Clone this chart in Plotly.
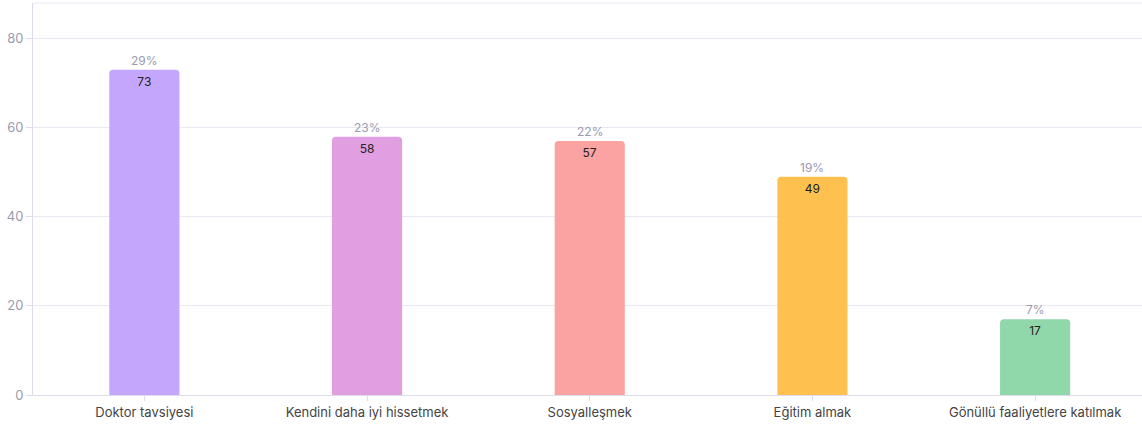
import plotly.graph_objects as go

categories = ["Doktor tavsiyesi", "Kendini daha iyi hissetmek", "Sosyalleşmek",
              "Eğitim almak", "Gönüllü faaliyetlere katılmak"]
values = [73, 58, 57, 49, 17]
percents = ["29%", "23%", "22%", "19%", "7%"]
colors = ["#C4A7FC", "#E19FE2", "#FBA3A2", "#FEC150", "#90D8AA"]
y_ticks = [0, 20, 40, 60, 80]

FONT = "Inter, Roboto, sans-serif"

fig = go.Figure()
fig.add_trace(go.Bar(
    x=categories, y=values,
    marker=dict(color=colors, line=dict(width=0)),
    width=0.315,
    text=[str(v) for v in values],
    textposition="inside",
    insidetextanchor="end",
    textangle=0,
    textfont=dict(family=FONT, size=12, color="#222222"),
    hoverinfo="skip",
))

for c, v, p in zip(categories, values, percents):
    fig.add_annotation(x=c, y=v, text=p, showarrow=False, yanchor="bottom",
                       yshift=0, font=dict(family=FONT, size=12, color="#9a9ab0"))

fig.update_layout(
    width=1142, height=427,
    margin=dict(l=33, r=0, t=3, b=32),
    paper_bgcolor="white", plot_bgcolor="white",
    showlegend=False,
    barcornerradius=4,
    font=dict(family=FONT),
    xaxis=dict(
        showgrid=False, showline=True, linecolor="#dcdcec", linewidth=1,
        ticks="outside", ticklen=5, tickcolor="#dcdcec",
        tickfont=dict(family=FONT, size=13, color="#444444"),
        range=[-0.5, 4.48], fixedrange=True,
    ),
    yaxis=dict(
        range=[0, 88], tickvals=y_ticks,
        showgrid=True, gridcolor="#e8e8f2", gridwidth=1,
        showline=True, linecolor="#dcdcec", linewidth=1,
        ticks="outside", ticklen=6, tickcolor="#dcdcec",
        tickfont=dict(family=FONT, size=13, color="#9a9ab0"),
        zeroline=False, fixedrange=True,
    ),
    shapes=[dict(type="line", xref="paper", yref="paper", x0=0, x1=1, y0=1, y1=1,
                 line=dict(color="#e8e8f2", width=1))],
)

fig.write_html("out.html")
